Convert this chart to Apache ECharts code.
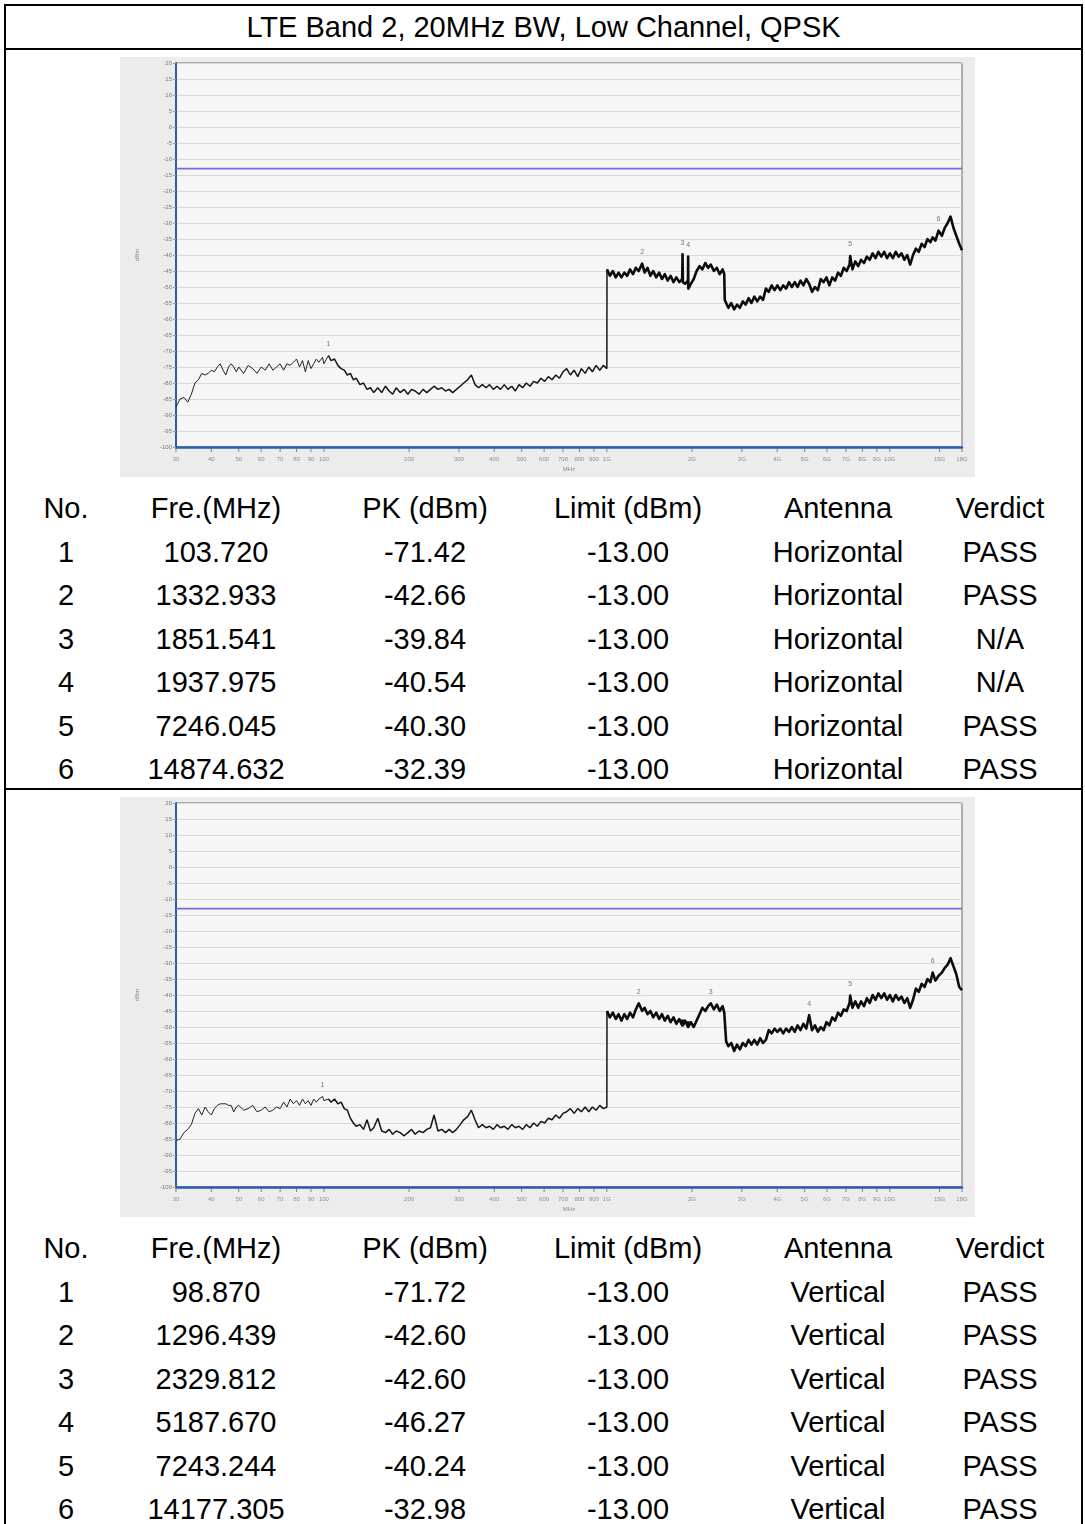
<!DOCTYPE html>
<html>
<head>
<meta charset="utf-8">
<script src="https://cdn.jsdelivr.net/npm/echarts@6/dist/echarts.min.js"></script>
<style>
html,body{margin:0;padding:0;background:#fff;}
body{width:1085px;height:1524px;position:relative;overflow:hidden;font-family:"Liberation Sans",Arial,Helvetica,sans-serif;color:#000;}
.ln{position:absolute;background:#000;}
.chart{position:absolute;left:120px;width:855px;height:420px;}
.cell{position:absolute;width:240px;height:40px;line-height:40px;text-align:center;font-size:29px;white-space:nowrap;}
.title{position:absolute;left:6px;width:1075px;top:6px;height:42px;line-height:42px;text-align:center;font-size:29px;}
</style>
</head>
<body>
<div class="ln" style="left:4px;top:4px;width:1079px;height:2px"></div>
<div class="ln" style="left:4px;top:4px;width:2px;height:1520px"></div>
<div class="ln" style="left:1081px;top:4px;width:2px;height:1520px"></div>
<div class="ln" style="left:4px;top:48px;width:1079px;height:2px"></div>
<div class="ln" style="left:4px;top:788px;width:1079px;height:2px"></div>
<div class="title" id="title"></div>
<div class="chart" id="c1" style="top:57px"></div>
<div class="chart" id="c2" style="top:797px"></div>
<div id="tables"></div>
<script>
// ---------- text ----------
const titleText = "LTE Band 2, 20MHz BW, Low Channel, QPSK";
const headers = ["No.", "Fre.(MHz)", "PK (dBm)", "Limit (dBm)", "Antenna", "Verdict"];

// ---------- marker tables ----------
const markerNo = [1, 2, 3, 4, 5, 6];
const horizFreq = [103.720, 1332.933, 1851.541, 1937.975, 7246.045, 14874.632];
const horizPk = [-71.42, -42.66, -39.84, -40.54, -40.30, -32.39];
const horizVerdict = ["PASS", "PASS", "N/A", "N/A", "PASS", "PASS"];
const vertFreq = [98.870, 1296.439, 2329.812, 5187.670, 7243.244, 14177.305];
const vertPk = [-71.72, -42.60, -42.60, -46.27, -40.24, -32.98];
const vertVerdict = ["PASS", "PASS", "PASS", "PASS", "PASS", "PASS"];
const limitDbm = -13.00;

// ---------- axis ticks ----------
const xTickValues = [30,40,50,60,70,80,90,100,200,300,400,500,600,700,800,900,1000,2000,3000,4000,5000,6000,7000,8000,9000,10000,15000,18000];
const xTickLabels = ["30","40","50","60","70","80","90","100","200","300","400","500","600","700","800","900","1G","2G","3G","4G","5G","6G","7G","8G","9G","10G","15G","18G"];

// ---------- spectrum traces (MHz, dBm) ----------
const freqA = [30,31,32,33,34,35,36,37,38,39,40,41,42,43,44,45,46,47,48,49,50,52,54,56,58,60,62,64,66,68,70,72,74,76,78,80,82,84,86,88,90,92,94,96,98.87,100];
const freqB = [103.72,106,109,112,115,118,121,124,127,130,134,138,142,146,150,155,160,165,170,175,180,186,192,198,204,210,217,224,231,238,245,253,261,269,277,285,294,303,312,322,332,342,352,363,374,385,397,409,421,434,447,461,475,489,504,519,535,551,568,585,603,621,640,660,680,700,721,743,766,789,813,838,863,889,916,944,972,1000];
const freqC = [1001,1025,1050,1075,1100,1126,1153,1180,1208,1237,
  1266,1296.44,1332.93,1360,1392,1425,1459,1494,1530,1566,
  1603,1641,1680,1720,1761,1803,1846,1851.54,1857,1890,
  1935,1937.98,1941,1981,2028,2076,2126,2176,2228,2281,
  2329.81,2390,2447,2505,2565,2600,2610,2640,2688,2752,
  2818,2885,2953,3024,3095,3169,3244,3321,3400,3481,
  3564,3649,3735,3824,3915,4008,4103,4201,4300,4403,
  4507,4614,4724,4836,4951,5069,5187.67,5312,5439,5568,
  5700,5835,5974,6116,6261,6410,6562,6718,6878,7041,
  7208,7246,7380,7555,7734,7918,8106,8299,8496,8698,
  8905,9116,9333,9555,9782,10014,10252,10496,10745,11000,
  11262,11529,11803,12084,12371,12665,12966,13274,13590,13912,
  14177.3,14500,14874.6,15282,15645,16017,16398,16787,17186,17595,
  18000];

const horizA = [-87.5,-85,-84.5,-86,-83.5,-80,-79,-77,-77.5,-77,
  -76,-76.5,-75,-74,-76,-77.5,-75,-74,-75,-76.5,
  -75,-77,-74.5,-75.5,-77,-75,-76,-74,-76,-75,
  -74,-76,-74,-74.5,-73.5,-72.5,-75,-73,-76.5,-73,
  -75.5,-74,-72.5,-73.5,-72,-74];
const horizB = [-71.4,-73,-72.5,-74.5,-75.5,-76,-77.5,-77,-79,-78.5,
  -80.5,-80,-82,-81.5,-83,-81.5,-83,-81,-82.5,-83.5,
  -81.5,-83,-82,-83.5,-82,-82.5,-83.5,-82,-83,-82,
  -81,-82,-81.5,-82.5,-82,-83,-82,-81,-80,-79,
  -77.5,-80.5,-81.5,-80.5,-81.5,-80.5,-82,-81,-82,-80.5,
  -82,-81,-82.5,-80.5,-81.5,-80,-81,-79.5,-80,-78.5,
  -79.5,-78,-79,-77.5,-78.5,-76.5,-75.5,-77.5,-76,-78,
  -75.5,-77,-75,-76.5,-74.5,-76,-74.5,-75.5];
const horizC = [-44.5,-46.5,-45,-47,-45.5,-47,-45.5,-46.5,-44.5,-46,
  -44,-45,-42.7,-45.5,-44,-46.5,-45,-47,-45.5,-47.5,
  -46,-48,-46.5,-48.5,-47,-48.5,-47.5,-39.8,-48.5,-49,
  -48,-40.5,-50.5,-49,-47.5,-45,-43.5,-44.5,-42.5,-44,
  -43,-45,-44,-46,-44.5,-46,-54,-55,-56.5,-55,
  -57,-55.5,-56.5,-54.5,-55.5,-53.5,-55,-53,-54.5,-53,
  -54,-50.5,-51.5,-49.5,-51,-49.5,-51,-49.5,-50.5,-48.5,
  -50,-48.5,-50,-48,-49.5,-47.5,-49,-51.5,-50,-51,
  -47.5,-48.5,-47,-49.5,-47,-48,-45.5,-46.5,-44,-45,
  -43,-40.3,-44.5,-42,-43.5,-41.5,-42.5,-40.5,-41.5,-39.5,
  -41,-39,-40.5,-39,-41,-39.5,-41,-39,-40.5,-39.5,
  -41.5,-40,-43,-40,-38,-39,-36.5,-37.5,-35,-36,
  -34.5,-35.5,-32.4,-34,-31.5,-30,-28,-31.5,-34,-36.5,
  -38.5];

const vertA = [-85.5,-85,-83,-82,-80.5,-77,-75.5,-77.5,-75,-76.5,
  -77.5,-75.5,-74.5,-74,-74,-74,-74.5,-74.5,-76.5,-75,
  -74.5,-76,-75.5,-74.5,-76.5,-76,-75,-76.5,-76,-75,
  -75.5,-73.5,-75,-72.5,-74,-73,-74.5,-72.5,-74,-73,
  -74.5,-72.5,-73.5,-72.5,-71.7,-73];
const vertB = [-72.5,-73.5,-72.5,-74,-73.5,-75.5,-76,-78.5,-80,-81,
  -80.5,-82,-79,-82.5,-81.5,-78.5,-82.5,-83,-82,-83.5,
  -82.5,-83,-84,-83,-82,-83.5,-82.5,-83,-82,-81.5,
  -77.5,-82.5,-82,-83,-82,-83,-82,-80.5,-79,-78,
  -76,-79,-81.5,-80.5,-81.5,-81,-82,-80.5,-81.5,-81,
  -82,-80.5,-81.5,-81,-82,-80.5,-81.5,-80,-81,-79.5,
  -80,-78.5,-79,-77.5,-78.5,-77,-76.5,-75.5,-77,-75.5,
  -76.5,-75,-76.5,-75,-76,-74.5,-75.5,-75];
const vertC = [-45,-47,-45.5,-47.5,-46,-48,-46,-47.5,-45.5,-47,
  -44.5,-42.6,-45,-44,-46,-45,-47,-45.5,-47.5,-46,
  -48,-46.5,-48.5,-47,-49,-47.5,-49.5,-48,-49.5,-48,
  -50,-48.5,-50,-48.5,-50,-48,-46,-44,-45,-43.5,
  -42.6,-44.5,-43,-45,-43.5,-45.5,-45,-54.5,-56,-55,
  -57.5,-55.5,-57,-55,-56,-54,-55.5,-54,-55.5,-53.5,
  -55,-54,-51,-52,-50.5,-51.5,-50.5,-52,-50.5,-51.5,
  -50,-51.5,-49.5,-51,-49,-50.5,-46.3,-51,-49.5,-51.5,
  -50,-51,-48.5,-49.5,-47,-48,-45.5,-46.5,-44.5,-45,
  -42.5,-40.2,-44,-42,-44,-42,-43.5,-41,-42.5,-40,
  -41.5,-39.5,-41,-39.5,-41.5,-40,-42,-40,-41.5,-40.5,
  -42.5,-41,-44,-41.5,-38,-39,-36.5,-37.5,-35,-36,
  -33,-35.5,-34,-33,-31.5,-30.5,-28.5,-31,-33.5,-37.5,
  -38.5];

// ---------- page text ----------
document.getElementById('title').textContent = titleText;
const colCenters = [66, 216, 425, 628, 838, 1000];
function addRow(y, cells) {
  const host = document.getElementById('tables');
  cells.forEach((t, i) => {
    const d = document.createElement('div');
    d.className = 'cell';
    d.style.left = (colCenters[i] - 120) + 'px';
    d.style.top = (y - 20) + 'px';
    d.textContent = t;
    host.appendChild(d);
  });
}
function addTable(y0, freqs, pks, antenna, verdicts) {
  addRow(y0, headers);
  markerNo.forEach((n, i) => {
    addRow(y0 + 43.5 * (i + 1), [String(n), freqs[i].toFixed(3), pks[i].toFixed(2), limitDbm.toFixed(2), antenna, verdicts[i]]);
  });
}
addTable(508, horizFreq, horizPk, "Horizontal", horizVerdict);
addTable(1248, vertFreq, vertPk, "Vertical", vertVerdict);

// ---------- charts ----------
function pairs(fs, vs) { return fs.map((f, i) => [f, vs[i]]); }
function makeOption(tA, tB, tC, mFreq, mPk) {
  const axisBlue = '#2c5cae';
  const lineBase = {type: 'line', symbol: 'none', silent: true, z: 4};
  return {
    animation: false,
    backgroundColor: '#ececec',
    grid: {left: 56, right: 13, top: 6, bottom: 30, show: true, backgroundColor: '#f6f6f6', borderColor: '#6a6a6a', borderWidth: 1},
    xAxis: {
      type: 'log', logBase: 10, min: 30, max: 18000,
      axisLine: {show: true, onZero: false, lineStyle: {color: axisBlue, width: 2.5}},
      axisTick: {show: false}, axisLabel: {show: false},
      splitLine: {show: false}, minorSplitLine: {show: false},
      name: 'MHz', nameLocation: 'middle', nameGap: 19,
      nameTextStyle: {fontSize: 6, color: '#888'}
    },
    yAxis: {
      type: 'value', min: -100, max: 20, interval: 5,
      axisLine: {show: true, onZero: false, lineStyle: {color: axisBlue, width: 2}},
      axisTick: {show: true, length: 3, lineStyle: {color: '#999'}},
      axisLabel: {fontSize: 6, color: '#777', margin: 4},
      splitLine: {show: true, lineStyle: {color: '#d9d9d9', width: 1}},
      name: 'dBm', nameLocation: 'middle', nameGap: 36, nameRotate: 90,
      nameTextStyle: {fontSize: 6, color: '#888'}
    },
    series: [
      Object.assign({}, lineBase, {data: pairs(freqA, tA).concat([[freqB[0], tB[0]]]), lineStyle: {color: '#222', width: 1}}),
      Object.assign({}, lineBase, {data: pairs(freqB, tB).concat([[freqC[0], tC[0]]]), lineStyle: {color: '#151515', width: 1.5}}),
      Object.assign({}, lineBase, {data: pairs(freqC, tC), lineStyle: {color: '#0c0c0c', width: 2.6, join: 'round'}}),
      {type: 'line', data: [[30, limitDbm], [18000, limitDbm]], symbol: 'none',
       lineStyle: {color: '#7070dc', width: 1.6}, z: 3, silent: true},
      {type: 'scatter', data: pairs(mFreq, mPk), symbolSize: 0, z: 5,
       label: {show: true, position: 'top', distance: 8, fontSize: 7, color: '#555',
               formatter: p => String(markerNo[p.dataIndex])}, silent: true},
      {type: 'scatter', data: xTickValues.map(v => [v, -100]), symbol: 'rect', symbolSize: [1, 4],
       symbolOffset: [0, 3], itemStyle: {color: '#666'}, clip: false, silent: true, z: 6,
       label: {show: true, position: 'bottom', distance: 4, fontSize: 6, color: '#777',
               formatter: p => xTickLabels[p.dataIndex]}}
    ]
  };
}
const c1 = echarts.init(document.getElementById('c1'), null, {renderer: 'canvas'});
c1.setOption(makeOption(horizA, horizB, horizC, horizFreq, horizPk));
const c2 = echarts.init(document.getElementById('c2'), null, {renderer: 'canvas'});
c2.setOption(makeOption(vertA, vertB, vertC, vertFreq, vertPk));
</script>
</body>
</html>
